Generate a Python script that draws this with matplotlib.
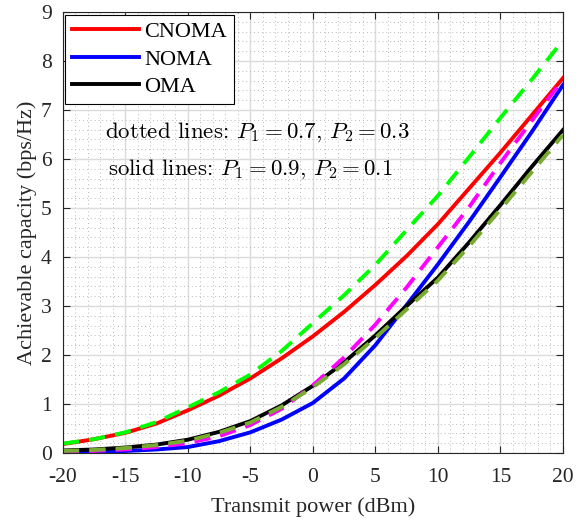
import numpy as np
import matplotlib
matplotlib.use("Agg")
import matplotlib.pyplot as plt
from matplotlib.ticker import MultipleLocator

plt.rcParams['font.family'] = ['Liberation Serif']
plt.rcParams['mathtext.fontset'] = 'cm'
plt.rcParams['axes.unicode_minus'] = False

# transmit power (dBm)
power = [-20, -17.5, -15, -12.5, -10, -7.5, -5, -2.5, 0, 2.5, 5, 7.5, 10, 12.5, 15, 17.5, 20]

# solid lines: P1 = 0.9, P2 = 0.1
cnoma_09 = [0.18, 0.28, 0.41, 0.60, 0.87, 1.17, 1.52, 1.93, 2.38, 2.88, 3.43, 4.02, 4.67, 5.40, 6.13, 6.89, 7.65]
noma_09 = [0.01, 0.02, 0.04, 0.07, 0.12, 0.24, 0.42, 0.68, 1.02, 1.52, 2.20, 3.02, 3.85, 4.72, 5.63, 6.55, 7.51]
oma_09 = [0.05, 0.07, 0.11, 0.17, 0.27, 0.43, 0.65, 0.97, 1.37, 1.85, 2.40, 3.00, 3.58, 4.30, 5.06, 5.84, 6.59]

# dotted lines: P1 = 0.7, P2 = 0.3
cnoma_07 = [0.19, 0.28, 0.42, 0.63, 0.93, 1.24, 1.60, 2.08, 2.65, 3.22, 3.84, 4.55, 5.25, 6.04, 6.84, 7.62, 8.42]
noma_07 = [0.02, 0.04, 0.07, 0.12, 0.20, 0.34, 0.57, 0.90, 1.38, 1.95, 2.62, 3.38, 4.20, 5.02, 5.92, 6.78, 7.62]
oma_07 = [0.04, 0.06, 0.10, 0.16, 0.25, 0.41, 0.62, 0.94, 1.34, 1.81, 2.35, 2.93, 3.52, 4.22, 4.97, 5.73, 6.49]

olive = (0.466, 0.674, 0.188)
lw = 2.8
dash = (4.2, 2.6)

fig = plt.figure(figsize=(5.87, 5.23), dpi=100)
ax = fig.add_axes([0.107, 0.134, 0.852, 0.843])

ax.plot(power, cnoma_09, color='r', lw=lw, label='CNOMA')
ax.plot(power, noma_09, color='b', lw=lw, label='NOMA')
ax.plot(power, oma_09, color='k', lw=lw, label='OMA')
ax.plot(power, cnoma_07, color=(0, 1, 0), lw=lw, dashes=dash)
ax.plot(power, noma_07, color=(1, 0, 1), lw=lw, dashes=dash)
ax.plot(power, oma_07, color=olive, lw=lw, dashes=dash)

ax.set_xlim(-20, 20)
ax.set_ylim(0, 9)
ax.xaxis.set_major_locator(MultipleLocator(5))
ax.xaxis.set_minor_locator(MultipleLocator(1))
ax.yaxis.set_major_locator(MultipleLocator(1))
ax.yaxis.set_minor_locator(MultipleLocator(0.2))
ax.grid(True, which='major', color=(0.86, 0.86, 0.86), lw=1.0)
ax.grid(True, which='minor', color=(0.72, 0.72, 0.72), lw=0.7, ls=(0, (1, 3)))
ax.set_axisbelow(True)

ax.tick_params(which='major', direction='in', top=True, right=True, length=5,
               labelsize=15.5, colors=(0.15, 0.15, 0.15))
ax.tick_params(axis='x', which='major', pad=11)
ax.tick_params(axis='y', which='major', pad=8)
ax.tick_params(which='minor', length=0)
for s in ax.spines.values():
    s.set_color((0.15, 0.15, 0.15))
    s.set_linewidth(0.8)

ax.set_xlabel('Transmit power (dBm)', fontsize=16, color=(0.15, 0.15, 0.15), labelpad=7)
ax.set_ylabel('Achievable capacity (bps/Hz)', fontsize=16, color=(0.15, 0.15, 0.15), labelpad=3)

leg = ax.legend(loc='upper left', fontsize=16, handlelength=3.0, handletextpad=0.25,
                labelspacing=0.32, borderpad=0.3, borderaxespad=0.12,
                fancybox=False, framealpha=1, edgecolor='k')
leg.get_frame().set_linewidth(0.8)

ax.text(-16.6, 6.55, r'dotted lines: $P_1 = 0.7$, $P_2 = 0.3$', family='cmr10',
        fontsize=16.5, va='center')
ax.text(-16.4, 5.8, r'solid lines: $P_1 = 0.9$, $P_2 = 0.1$', family='cmr10',
        fontsize=16.5, va='center')

fig.savefig('out.png', dpi=100)
